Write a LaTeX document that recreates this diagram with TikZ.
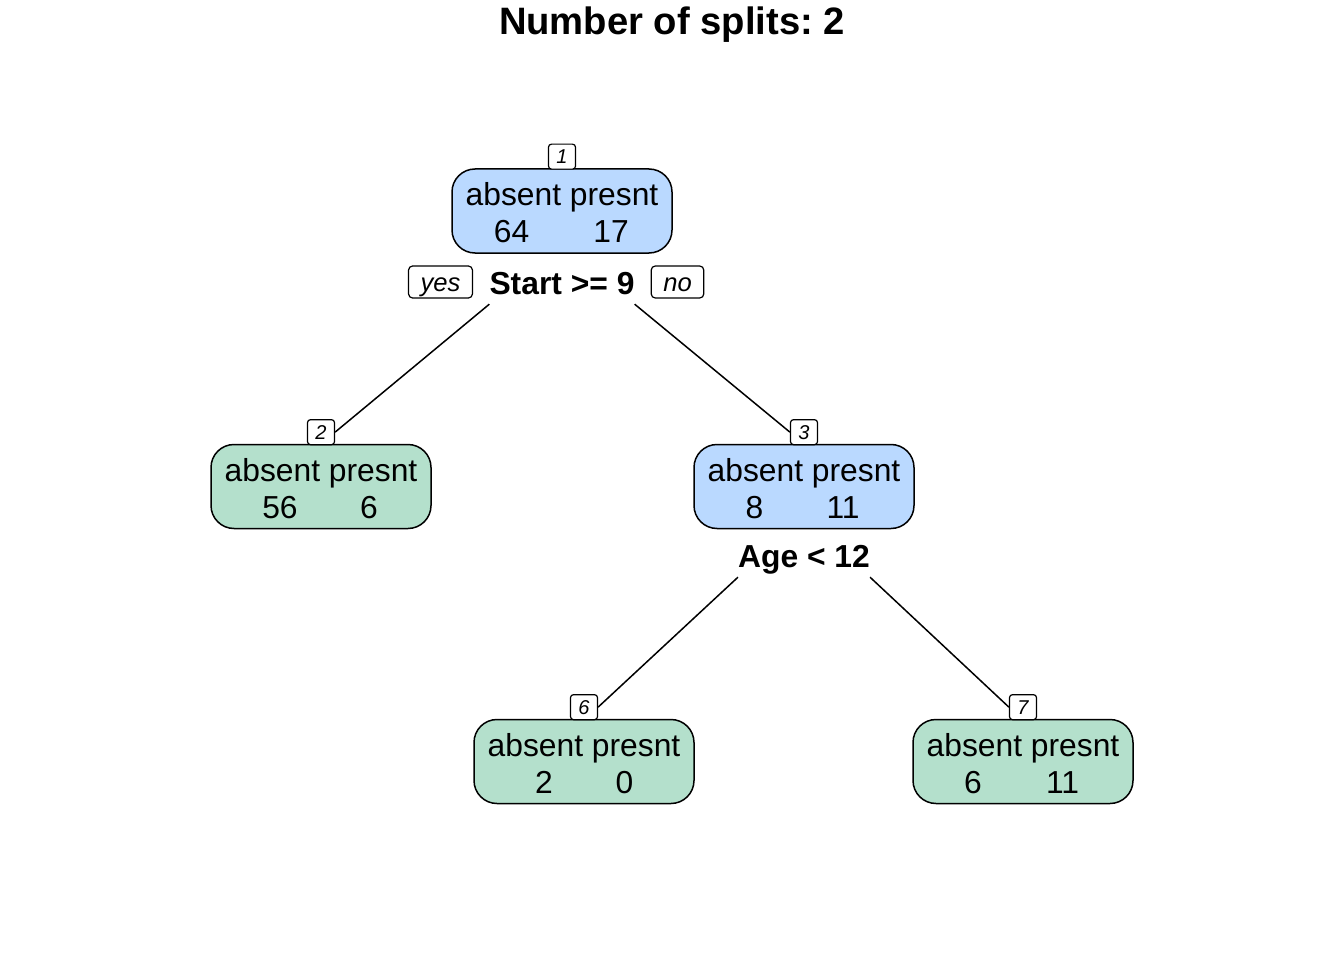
\documentclass[tikz,border=0pt]{standalone}
\usepackage{fontspec}
\setmainfont{Liberation Sans}
\frenchspacing
\definecolor{nodeblue}{HTML}{BAD9FF}
\definecolor{nodegreen}{HTML}{B4E0CC}
\tikzset{
  treebox/.style={draw=black, line width=1.5pt, rounded corners=23pt, minimum width=220pt, minimum height=84pt, inner sep=0pt},
  numlab/.style={draw=black, fill=white, line width=1.2pt, rounded corners=3pt, minimum width=27pt, minimum height=25pt, inner sep=0pt, font=\fontsize{20}{23}\selectfont\itshape, anchor=south, yshift=-1.5pt},
  yn/.style={draw=black, fill=white, line width=1.2pt, rounded corners=4pt, minimum height=32pt, inner xsep=12pt, inner ysep=0pt, text height=18.3pt, text depth=0pt, font=\fontsize{25.6}{30}\selectfont\itshape},
  txt/.style={font=\fontsize{31.8}{38}\selectfont, anchor=base, inner sep=0pt},
  splitlab/.style={font=\fontsize{31.8}{38}\selectfont\bfseries, anchor=base, inner xsep=0pt, inner ysep=10pt, text depth=0pt},
  edgeline/.style={line width=1.5pt, black}
}
\begin{document}
\begin{tikzpicture}[x=1pt,y=-1pt]
\fill[white] (0,0) rectangle (1344,960);
\useasboundingbox (0,0) rectangle (1344,960);

\node[font=\fontsize{38.2}{44}\selectfont\bfseries, anchor=base, inner sep=0pt] (title) at (672,35) {Number of splits: 2};

% node 1
\node[treebox, fill=nodeblue] (n1) at (562,211) {};
\node[txt] (n1a) at (562,206) {absent presnt};
\node[txt] (n1l) at (511.5,243) {64};
\node[txt] (n1r) at (611,243) {17};
\node[splitlab] (s1) at (562,294) {Start >= 9};
\node[yn] (yes) at (440.5,282) {yes};
\node[yn] (no) at (677.5,282) {no};

% node 2
\node[treebox, fill=nodegreen] (n2) at (321,486.5) {};
\node[txt] (n2a) at (321,481) {absent presnt};
\node[txt] (n2l) at (280,518.5) {56};
\node[txt] (n2r) at (369,518.5) {6};

% node 3
\node[treebox, fill=nodeblue] (n3) at (804,486.5) {};
\node[txt] (n3a) at (804,481) {absent presnt};
\node[txt] (n3l) at (754.5,518.5) {8};
\node[txt] (n3r) at (843,518.5) {11};
\node[splitlab] (s2) at (804,567) {Age < 12};

% node 6
\node[treebox, fill=nodegreen] (n6) at (584,761.5) {};
\node[txt] (n6a) at (584,756) {absent presnt};
\node[txt] (n6l) at (544,793.5) {2};
\node[txt] (n6r) at (624.5,793.5) {0};

% node 7
\node[treebox, fill=nodegreen] (n7) at (1023,761.5) {};
\node[txt] (n7a) at (1023,756) {absent presnt};
\node[txt] (n7l) at (973,793.5) {6};
\node[txt] (n7r) at (1062.5,793.5) {11};

% number labels
\node[numlab] (l1) at (n1.north) {1};
\node[numlab] (l2) at (n2.north) {2};
\node[numlab] (l3) at (n3.north) {3};
\node[numlab] (l6) at (n6.north) {6};
\node[numlab] (l7) at (n7.north) {7};

% edges
\draw[edgeline] (s1.south west) -- (l2.east);
\draw[edgeline] (s1.south east) -- (l3.west);
\draw[edgeline] (s2.south west) -- (l6.east);
\draw[edgeline] (s2.south east) -- (l7.west);
\end{tikzpicture}
\end{document}
